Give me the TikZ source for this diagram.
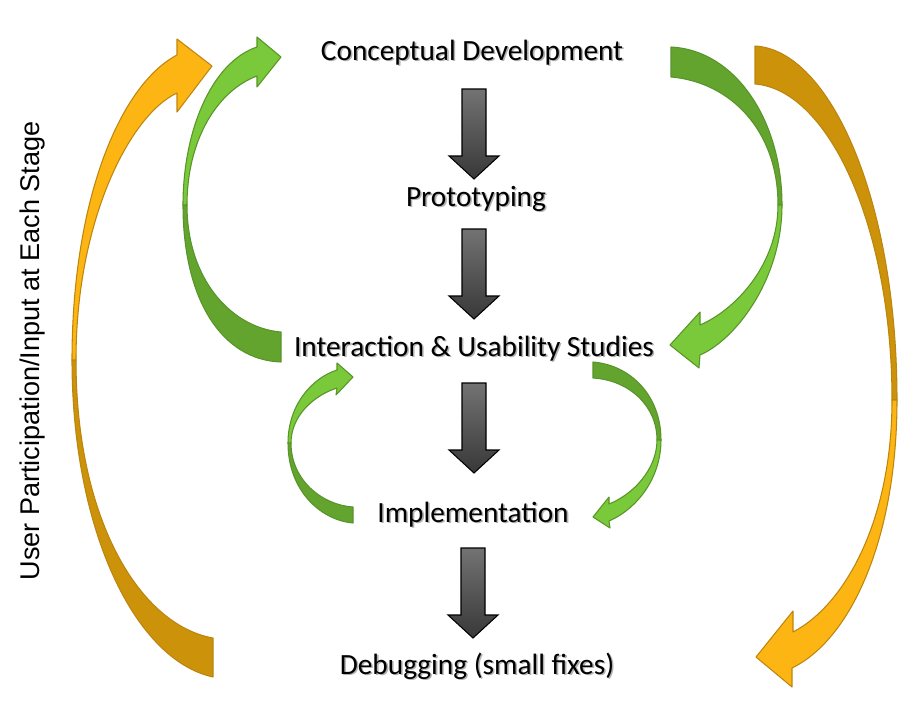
\documentclass[tikz,border=0pt]{standalone}
\usepackage{fontspec}
\setmainfont{Carlito}
\newfontfamily\sidefont{Liberation Sans}
\usetikzlibrary{positioning}

\definecolor{leafLight}{RGB}{122,201,58}
\definecolor{leafDark}{RGB}{99,164,46}
\definecolor{leafLine}{RGB}{88,148,40}
\definecolor{amberLight}{RGB}{253,181,20}
\definecolor{amberDark}{RGB}{204,146,10}
\definecolor{amberLine}{RGB}{188,134,14}

\newcommand{\shadowed}[1]{\rlap{\hspace{0.9pt}\raisebox{-0.9pt}{\color{black!30}#1}}#1}

\tikzset{
  stage/.style={font=\fontsize{16.7}{20}\selectfont, inner sep=0pt, anchor=base},
  leaffront/.style={fill=leafLight, draw=leafLine, line width=0.6pt, line join=round},
  leafback/.style={fill=leafDark, draw=leafLine, line width=0.6pt, line join=round},
  amberfront/.style={fill=amberLight, draw=amberLine, line width=0.6pt, line join=round},
  amberback/.style={fill=amberDark, draw=amberLine, line width=0.6pt, line join=round},
  pics/blockdown/.style={code={
    \shade[draw=black, line width=0.6pt, line join=miter, top color=black!55, bottom color=black!78]
      (-12,0) -- (12,0) -- (12,67) -- (25,67) -- (0,90) -- (-25,67) -- (-12,67) -- cycle;
  }}
}

\begin{document}
\begin{tikzpicture}[x=0.02cm, y=-0.02cm]
\useasboundingbox[fill=white] (0,0) rectangle (900,720);

% stages
\node[stage] (concept) at (472,60) {\shadowed{Conceptual Development}};
\node[stage] (proto) at (476,206) {\shadowed{Prototyping}};
\node[stage] (study) at (474,356) {\shadowed{Interaction \& Usability Studies}};
\node[stage] (impl) at (473,522) {\shadowed{Implementation}};
\node[stage] (debug) at (477,674) {\shadowed{Debugging (small fixes)}};

\node[rotate=90, inner sep=0pt, font=\sidefont\fontsize{15.4}{18}\selectfont] (users) at (33,351) {User Participation/Input at Each Stage};

% down arrows
\pic at (474,89) {blockdown};
\pic at (474,229) {blockdown};
\pic at (474,383) {blockdown};
\pic at (473,548) {blockdown};

% big green loop, left
\filldraw[leafback] (183,205) .. controls (183,300) and (222,360) .. (281,362) -- (281,332)
  .. controls (232,328) and (187,280) .. (187,205) -- cycle;
\filldraw[leaffront] (257,47) -- (257,37) -- (281,57) -- (257,87) -- (257,76)
  .. controls (217,91) and (187,140) .. (187,205) -- (183,205)
  .. controls (183,130) and (212,62) .. (257,47) -- cycle;

% big green loop, right
\filldraw[leafback] (671,47) .. controls (735,50) and (782,120) .. (782,205) -- (778,205)
  .. controls (778,130) and (730,82) .. (671,77) -- cycle;
\filldraw[leaffront] (782,205) .. controls (782,280) and (735,340) .. (700,355) -- (699,368)
  -- (670,345) -- (700,312) -- (700,325) .. controls (735,310) and (778,265) .. (778,205) -- cycle;

% small green loop, left
\filldraw[leafback] (288,443) .. controls (288,490) and (320,520) .. (353,523) -- (353,507)
  .. controls (322,505) and (291,480) .. (291,443) -- cycle;
\filldraw[leaffront] (337,370) -- (337,363) -- (353,377) -- (336,395) -- (337,388)
  .. controls (315,395) and (291,415) .. (291,443) -- (288,443)
  .. controls (288,405) and (312,378) .. (337,370) -- cycle;

% small green loop, right
\filldraw[leafback] (593,362) .. controls (630,365) and (661,395) .. (661,440) -- (657,440)
  .. controls (657,405) and (628,380) .. (593,378) -- cycle;
\filldraw[leaffront] (661,440) .. controls (661,480) and (635,510) .. (609,521) -- (610,528)
  -- (593,517) -- (609,497) -- (609,504) .. controls (632,495) and (657,470) .. (657,440) -- cycle;

% user input loop, left
\filldraw[amberback] (72,360) .. controls (72,530) and (135,660) .. (213,677) -- (213,638)
  .. controls (140,625) and (76,520) .. (76,360) -- cycle;
\filldraw[amberfront] (177,55) -- (177,39) -- (212,66) -- (177,112) -- (177,93)
  .. controls (130,115) and (76,220) .. (76,360) -- (72,360)
  .. controls (72,200) and (120,85) .. (177,55) -- cycle;

% user input loop, right
\filldraw[amberback] (755,46) .. controls (830,50) and (897,200) .. (897,400) -- (892,400)
  .. controls (892,230) and (830,90) .. (755,84) -- cycle;
\filldraw[amberfront] (897,400) .. controls (897,540) and (850,640) .. (792,668) -- (792,687)
  -- (756,657) -- (793,611) -- (793,632) .. controls (845,605) and (892,520) .. (892,400) -- cycle;

\end{tikzpicture}
\end{document}
